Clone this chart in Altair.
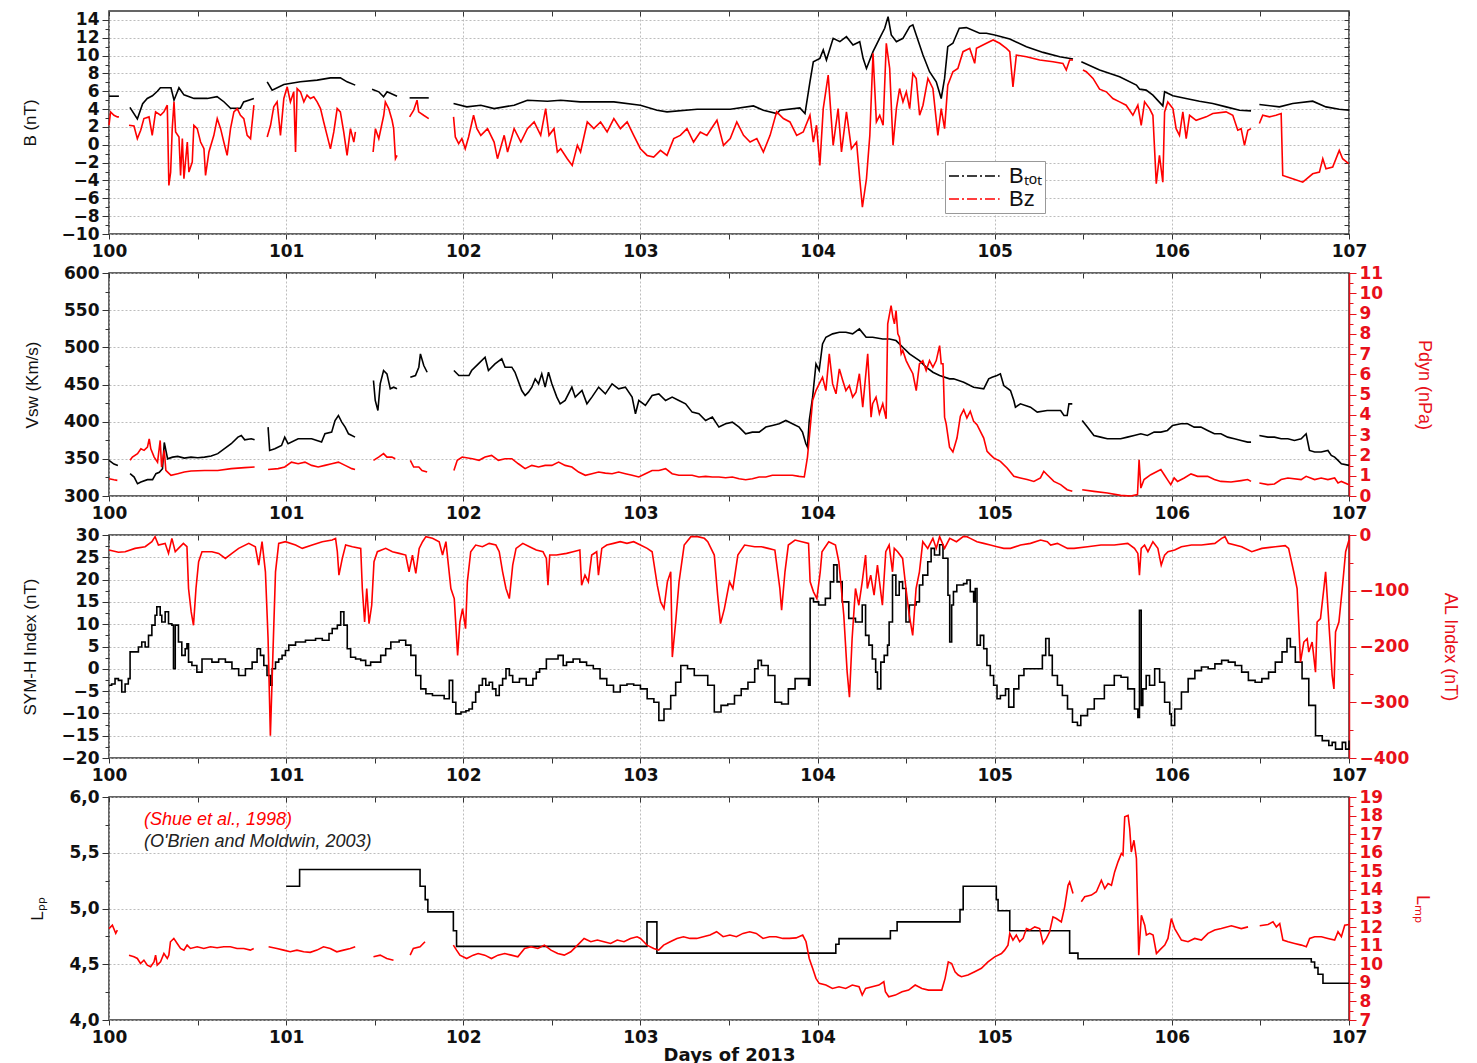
import altair as alt
import pandas as pd

# ---------------- data (day of 2013, value); None = data gap ----------------
BTOT = [
    (100.0, 5.45), (100.056, 5.45), None,
    (100.118, 4.2), (100.16, 2.9), (100.19, 4.6), (100.216, 5.2), (100.245, 5.5), (100.273, 6.0), (100.29, 6.4),
    (100.35, 6.4), (100.367, 5.0), (100.395, 6.4), (100.423, 5.6), (100.48, 5.2), (100.555, 5.2), (100.61, 5.4),
    (100.65, 4.8), (100.686, 4.1), (100.742, 4.1), (100.76, 4.8), (100.818, 5.2), None,
    (100.893, 7.06), (100.921, 6.13), (100.987, 6.76), (101.08, 7.06), (101.175, 7.25), (101.25, 7.5), (101.306, 7.5),
    (101.344, 7.06), (101.39, 6.69), None,
    (101.485, 6.24), (101.523, 5.94), (101.55, 5.38), (101.57, 5.94), (101.626, 5.45), None,
    (101.697, 5.26), (101.805, 5.26), None,
    (101.945, 4.63), (102.02, 4.25), (102.099, 4.44), (102.174, 4.06), (102.287, 4.44), (102.362, 5.0), (102.475, 4.89),
    (102.55, 5.0), (102.66, 4.81), (102.85, 4.81), (103.0, 4.44), (103.094, 3.88), (103.15, 3.69), (103.32, 3.99),
    (103.507, 3.99), (103.638, 4.36), (103.694, 3.88), (103.77, 3.5), (103.788, 3.88), (103.9, 4.14), (103.929, 3.5),
    (103.957, 7.06), (103.976, 9.31), (104.013, 9.69), (104.032, 10.63), (104.05, 9.5), (104.088, 11.94),
    (104.126, 11.56), (104.163, 12.12), (104.2, 11.19), (104.238, 11.56), (104.257, 9.69), (104.276, 8.56),
    (104.313, 10.44), (104.35, 11.94), (104.379, 13.06), (104.398, 14.37), (104.416, 12.31), (104.445, 11.56),
    (104.482, 11.94), (104.52, 13.25), (104.538, 13.44), (104.557, 12.31), (104.595, 10.06), (104.632, 8.19),
    (104.67, 7.06), (104.698, 5.19), (104.717, 7.44), (104.735, 11.0), (104.764, 11.38), (104.8, 13.06),
    (104.84, 13.14), (104.915, 12.5), (104.953, 12.5), (105.0, 12.31), (105.085, 11.86), (105.179, 11.0),
    (105.273, 10.36), (105.367, 9.88), (105.442, 9.61), None,
    (105.489, 9.31), (105.592, 8.38), (105.705, 7.63), (105.8, 6.69), (105.818, 6.24), (105.855, 6.13), (105.893, 5.56),
    (105.949, 4.36), (105.959, 5.94), (106.006, 5.49), (106.08, 5.19), (106.156, 4.89), (106.231, 4.63), (106.306, 4.25),
    (106.382, 3.88), (106.447, 3.8), None,
    (106.494, 4.51), (106.607, 4.25), (106.682, 4.63), (106.795, 4.89), (106.87, 4.25), (106.945, 3.99), (107.0, 3.88),
]

BZ = [
    (100.0, 2.19), (100.009, 3.69), (100.028, 3.31), (100.047, 3.13), (100.056, 3.13), None,
    (100.113, 2.19), (100.141, 2.11), (100.16, 0.69), (100.179, 1.63), (100.197, 2.94), (100.226, 3.13), (100.244, 1.06),
    (100.263, 3.69), (100.291, 3.31), (100.31, 3.69), (100.329, 4.44), (100.338, -4.56), (100.348, -3.06),
    (100.357, 1.81), (100.367, 4.81), (100.376, 1.44), (100.395, 0.88), (100.404, -3.44), (100.414, 0.69),
    (100.423, -3.81), (100.442, 0.31), (100.451, -3.06), (100.47, -1.94), (100.479, 2.19), (100.498, 1.81),
    (100.517, 0.31), (100.536, -0.44), (100.545, -3.44), (100.564, -0.81), (100.592, 1.06), (100.611, 2.94),
    (100.63, 1.81), (100.648, 0.31), (100.667, -1.19), (100.686, 1.81), (100.705, 3.69), (100.724, 4.06),
    (100.742, 3.31), (100.761, 2.94), (100.78, 1.06), (100.799, 0.69), (100.818, 4.44), None,
    (100.893, 0.88), (100.912, 2.19), (100.93, 4.25), (100.949, 4.81), (100.968, 1.06), (100.987, 5.19),
    (101.006, 6.5), (101.024, 4.81), (101.043, 5.94), (101.053, -0.81), (101.062, 6.31), (101.081, 5.94),
    (101.1, 4.81), (101.118, 5.56), (101.137, 5.19), (101.156, 5.38), (101.175, 4.81), (101.194, 4.06),
    (101.212, 2.56), (101.231, 1.06), (101.25, -0.44), (101.269, 1.44), (101.288, 4.06), (101.306, 3.69),
    (101.325, 1.44), (101.344, -1.19), (101.363, 1.81), (101.382, 0.31), (101.391, 1.44), None,
    (101.491, -0.81), (101.504, 1.81), (101.523, 0.69), (101.551, 3.31), (101.56, 4.81), (101.579, 4.06),
    (101.598, 2.75), (101.607, 1.81), (101.617, -1.56), (101.626, -1.19), None,
    (101.697, 3.13), (101.72, 3.88), (101.739, 5.0), (101.748, 3.69), (101.776, 3.31), (101.805, 2.94), None,
    (101.945, 3.13), (101.955, 0.88), (101.974, 0.13), (101.992, 0.69), (102.011, -0.44), (102.03, 0.88),
    (102.058, 3.31), (102.077, 1.81), (102.099, 1.06), (102.137, 1.81), (102.174, 0.31), (102.193, -1.56),
    (102.231, 1.06), (102.25, -0.81), (102.287, 1.81), (102.325, 0.31), (102.362, 1.81), (102.4, 2.56),
    (102.437, 1.06), (102.465, 4.06), (102.484, 1.06), (102.512, 1.81), (102.531, -0.81), (102.55, -0.44),
    (102.587, -1.56), (102.615, -2.31), (102.644, -0.06), (102.662, -0.81), (102.7, 2.56), (102.737, 1.81),
    (102.775, 2.56), (102.812, 1.44), (102.85, 2.94), (102.887, 1.81), (102.925, 2.56), (102.962, 1.06),
    (103.0, -0.44), (103.038, -1.19), (103.075, -1.37), (103.113, -0.63), (103.15, -1.19), (103.188, 0.69),
    (103.225, 1.06), (103.263, 1.81), (103.3, 0.31), (103.338, 1.44), (103.375, 1.06), (103.413, 2.19),
    (103.432, 2.75), (103.469, -0.06), (103.507, 0.69), (103.544, 2.56), (103.582, 1.06), (103.619, 0.31),
    (103.657, 0.69), (103.694, -0.81), (103.732, 1.06), (103.769, 3.69), (103.807, 2.94), (103.844, 2.56),
    (103.882, 1.06), (103.919, 1.44), (103.957, 3.31), (103.976, 0.31), (103.994, 2.19), (104.013, -2.31),
    (104.032, 4.06), (104.06, 7.81), (104.088, -0.06), (104.116, 4.06), (104.135, -0.81), (104.163, 3.69),
    (104.191, -0.44), (104.22, 0.31), (104.238, -3.81), (104.253, -7.0), (104.276, -3.81), (104.295, 1.06),
    (104.313, 10.25), (104.332, 2.56), (104.351, 3.31), (104.37, 2.19), (104.388, 11.38), (104.407, 8.56),
    (104.426, -0.06), (104.445, 4.06), (104.463, 6.31), (104.482, 4.81), (104.501, 5.94), (104.52, 4.06),
    (104.538, 8.0), (104.557, 7.44), (104.576, 3.31), (104.595, 4.44), (104.623, 7.44), (104.651, 6.31),
    (104.679, 1.06), (104.698, 4.06), (104.717, 1.81), (104.735, 6.69), (104.764, 8.19), (104.792, 8.56),
    (104.821, 10.44), (104.859, 10.81), (104.887, 9.13), (104.897, 10.81), (104.953, 11.38), (104.991, 11.75),
    (105.028, 11.38), (105.066, 10.81), (105.085, 10.44), (105.103, 6.5), (105.122, 10.06), (105.179, 9.88),
    (105.254, 9.5), (105.329, 9.31), (105.385, 9.13), (105.404, 8.38), (105.423, 9.5), (105.442, 9.5), None,
    (105.498, 8.38), (105.517, 8.19), (105.555, 7.44), (105.592, 6.24), (105.63, 5.94), (105.667, 5.19),
    (105.705, 4.81), (105.742, 4.44), (105.78, 3.31), (105.808, 4.44), (105.827, 2.19), (105.846, 4.81),
    (105.874, 4.06), (105.893, 3.31), (105.912, -4.37), (105.93, -1.19), (105.949, -4.19), (105.959, 3.69),
    (105.977, 4.81), (106.006, 4.06), (106.024, 1.81), (106.043, 1.06), (106.062, 3.69), (106.081, 0.69),
    (106.1, 3.31), (106.137, 2.75), (106.194, 3.13), (106.231, 3.5), (106.306, 3.69), (106.344, 3.31),
    (106.372, 1.63), (106.391, 1.81), (106.41, -0.06), (106.429, 1.63), (106.447, 1.81), None,
    (106.494, 2.38), (106.513, 3.31), (106.551, 3.13), (106.588, 3.31), (106.617, 3.5), (106.626, -3.44),
    (106.682, -3.81), (106.739, -4.19), (106.795, -3.25), (106.833, -3.06), (106.852, -1.56), (106.87, -2.69),
    (106.908, -2.5), (106.945, -0.63), (106.964, -1.56), (106.998, -2.12),
]

VSW = [
    (100.0, 348), (100.028, 343), (100.05, 341), None,
    (100.119, 330), (100.142, 325.5), (100.161, 316.5), (100.18, 318.8), (100.217, 322), (100.246, 322), (100.265, 330),
    (100.284, 332), (100.302, 336.7), (100.312, 372), (100.331, 350), (100.359, 352.3), (100.388, 353.3),
    (100.425, 351), (100.463, 352.3), (100.501, 351.4), (100.539, 352.3), (100.577, 353.7), (100.614, 357),
    (100.652, 363.6), (100.69, 370.3), (100.728, 379.2), (100.747, 381.5), (100.766, 375.6), (100.803, 377),
    (100.822, 375.6), None,
    (100.898, 392.7), (100.907, 361.3), (100.936, 363.6), (100.974, 368), (100.992, 379.2), (101.011, 370.3),
    (101.068, 377), (101.144, 377), (101.2, 372.5), (101.219, 383.7), (101.257, 385.9), (101.276, 401.6),
    (101.295, 408.3), (101.314, 399.4), (101.333, 392.7), (101.352, 383.7), (101.389, 379.2), None,
    (101.493, 455.4), (101.503, 428.5), (101.518, 415), (101.531, 450.9), (101.55, 468.8), (101.569, 464.3),
    (101.588, 444.2), (101.607, 446.4), (101.626, 444.2), None,
    (101.701, 459.8), (101.73, 462.1), (101.749, 473.3), (101.758, 491.2), (101.777, 475.5), (101.796, 466.5), None,
    (101.947, 468.8), (101.975, 462.1), (102.032, 462.1), (102.047, 468.8), (102.085, 477.7), (102.123, 486.7),
    (102.142, 468.8), (102.179, 477.7), (102.217, 484.5), (102.236, 473.3), (102.274, 473.3), (102.292, 466.5),
    (102.33, 441.9), (102.349, 435.2), (102.368, 439.7), (102.387, 446.4), (102.406, 457.6), (102.425, 450.9),
    (102.443, 464.3), (102.462, 446.4), (102.481, 466.5), (102.5, 450.9), (102.528, 433), (102.547, 424),
    (102.575, 428.5), (102.613, 446.4), (102.632, 433), (102.67, 441.9), (102.698, 424), (102.726, 433),
    (102.764, 446.4), (102.802, 437.4), (102.84, 450.9), (102.877, 444.2), (102.915, 446.4), (102.953, 433),
    (102.972, 410.6), (102.991, 428.5), (103.028, 421.8), (103.066, 435.2), (103.104, 437.4), (103.142, 428.5),
    (103.179, 433), (103.217, 428.5), (103.255, 424), (103.292, 412.8), (103.33, 410.6), (103.368, 401.6),
    (103.406, 406.1), (103.443, 392.7), (103.481, 397.1), (103.519, 399.4), (103.557, 392.7), (103.594, 383.7),
    (103.632, 385.9), (103.67, 385.9), (103.708, 392.7), (103.745, 394.9), (103.783, 397.1), (103.821, 401.6),
    (103.858, 397.1), (103.896, 392.7), (103.915, 385.9), (103.934, 370.3), (103.943, 365.8), (103.953, 401.6),
    (103.972, 433), (103.991, 477.7), (104.009, 468.8), (104.028, 504.6), (104.047, 513.6), (104.085, 518.1),
    (104.123, 520.3), (104.16, 520.3), (104.198, 518.1), (104.236, 524.8), (104.274, 513.6), (104.311, 513.6),
    (104.368, 511.3), (104.406, 511.3), (104.443, 509.1), (104.481, 500.1), (104.519, 491.2), (104.575, 482.2),
    (104.613, 473.3), (104.651, 466.5), (104.689, 462.1), (104.745, 457.6), (104.768, 457.6), (104.825, 453.1),
    (104.881, 446.4), (104.938, 444.2), (104.966, 457.6), (104.985, 459.8), (105.013, 462.1), (105.032, 464.3),
    (105.051, 448.6), (105.089, 441.9), (105.108, 428.5), (105.117, 419.5), (105.145, 424), (105.202, 419.5),
    (105.24, 412.8), (105.296, 415), (105.372, 415), (105.391, 408.3), (105.409, 408.3), (105.419, 424),
    (105.438, 424), None,
    (105.494, 401.6), (105.523, 392.7), (105.56, 381.5), (105.598, 379.2), (105.636, 377), (105.674, 377),
    (105.711, 377), (105.749, 379.2), (105.787, 381.5), (105.825, 383.7), (105.862, 381.5), (105.9, 385.9),
    (105.938, 385.9), (105.975, 388.2), (106.004, 394.9), (106.051, 397.1), (106.089, 397.1), (106.126, 392.7),
    (106.164, 392.7), (106.202, 388.2), (106.24, 383.7), (106.277, 383.7), (106.315, 379.2), (106.353, 377),
    (106.391, 374.7), (106.428, 372.5), (106.447, 372.5), None,
    (106.494, 381.5), (106.542, 379.2), (106.579, 379.2), (106.617, 377), (106.655, 377), (106.692, 374.7),
    (106.73, 377), (106.758, 383.7), (106.777, 361.3), (106.806, 359.1), (106.843, 359.1), (106.881, 361.3),
    (106.9, 354.6), (106.919, 352.3), (106.938, 347.9), (106.957, 343.4), (107.0, 341.2),
]

PDYN = [
    (100.0, 0.85), (100.028, 0.8), (100.047, 0.77), None,
    (100.119, 1.76), (100.132, 1.92), (100.161, 2.09), (100.18, 2.33), (100.198, 2.25), (100.217, 2.41),
    (100.227, 2.82), (100.236, 2.33), (100.255, 1.92), (100.274, 1.67), (100.289, 2.74), (100.297, 1.43),
    (100.312, 2.25), (100.321, 1.26), (100.331, 1.18), (100.35, 1.02), (100.388, 1.1), (100.425, 1.18),
    (100.463, 1.23), (100.539, 1.26), (100.614, 1.26), (100.69, 1.35), (100.766, 1.4), (100.822, 1.43), None,
    (100.898, 1.31), (100.955, 1.35), (100.992, 1.43), (101.03, 1.67), (101.068, 1.59), (101.106, 1.67),
    (101.144, 1.51), (101.181, 1.43), (101.219, 1.51), (101.257, 1.59), (101.295, 1.67), (101.333, 1.51),
    (101.371, 1.35), (101.389, 1.31), None,
    (101.493, 1.76), (101.522, 1.92), (101.55, 2.09), (101.569, 1.92), (101.597, 1.92), (101.616, 1.84), None,
    (101.701, 1.76), (101.72, 1.43), (101.749, 1.43), (101.767, 1.26), (101.796, 1.18), None,
    (101.947, 1.26), (101.966, 1.76), (101.994, 1.92), (102.051, 1.84), (102.089, 1.76), (102.123, 1.92),
    (102.16, 2.0), (102.198, 1.76), (102.236, 1.84), (102.274, 1.84), (102.311, 1.59), (102.349, 1.35),
    (102.387, 1.51), (102.425, 1.43), (102.462, 1.51), (102.5, 1.51), (102.538, 1.67), (102.575, 1.51),
    (102.613, 1.43), (102.651, 1.18), (102.689, 1.02), (102.726, 1.1), (102.764, 1.18), (102.802, 1.13),
    (102.84, 1.1), (102.877, 1.18), (102.915, 1.1), (102.953, 1.02), (102.991, 0.94), (103.028, 1.1),
    (103.066, 1.26), (103.104, 1.26), (103.142, 1.35), (103.179, 1.1), (103.217, 1.02), (103.255, 1.02),
    (103.292, 1.02), (103.33, 0.94), (103.368, 0.97), (103.406, 0.94), (103.443, 0.94), (103.481, 0.9),
    (103.519, 0.94), (103.557, 0.85), (103.594, 0.8), (103.632, 0.85), (103.67, 0.94), (103.708, 0.94),
    (103.745, 1.02), (103.783, 1.02), (103.821, 1.02), (103.858, 1.02), (103.896, 0.97), (103.925, 0.94),
    (103.943, 1.92), (103.957, 3.23), (103.972, 4.71), (103.991, 5.2), (104.009, 5.53), (104.028, 5.86),
    (104.047, 5.2), (104.066, 7.01), (104.085, 5.53), (104.104, 5.04), (104.123, 6.27), (104.142, 5.7),
    (104.16, 5.2), (104.179, 5.45), (104.198, 4.88), (104.217, 5.12), (104.236, 6.03), (104.255, 4.38),
    (104.283, 7.01), (104.302, 3.89), (104.311, 4.55), (104.33, 4.88), (104.349, 4.06), (104.368, 4.55),
    (104.387, 3.81), (104.396, 8.49), (104.415, 9.39), (104.425, 8.82), (104.434, 8.49), (104.443, 9.15),
    (104.453, 8.0), (104.462, 7.83), (104.472, 7.01), (104.481, 7.18), (104.5, 6.68), (104.519, 6.35),
    (104.538, 6.03), (104.557, 5.2), (104.575, 6.52), (104.594, 6.68), (104.613, 6.19), (104.632, 6.68),
    (104.651, 6.35), (104.67, 6.68), (104.689, 7.42), (104.698, 6.52), (104.708, 6.52), (104.717, 3.89),
    (104.726, 3.56), (104.745, 2.41), (104.764, 2.17), (104.787, 2.86), (104.806, 3.93), (104.825, 4.26),
    (104.843, 3.85), (104.862, 4.18), (104.881, 3.68), (104.9, 3.52), (104.919, 3.19), (104.938, 2.86),
    (104.957, 2.2), (104.975, 2.04), (104.994, 1.88), (105.032, 1.71), (105.07, 1.38), (105.108, 0.97),
    (105.145, 0.89), (105.183, 0.81), (105.221, 0.72), (105.258, 0.89), (105.277, 1.22), (105.296, 1.05),
    (105.334, 0.72), (105.372, 0.56), (105.409, 0.31), (105.438, 0.23), None,
    (105.494, 0.31), (105.56, 0.23), (105.636, 0.15), (105.711, 0.03), (105.768, 0.0), (105.806, 0.07),
    (105.815, 1.79), (105.825, 0.39), (105.843, 0.81), (105.881, 1.05), (105.919, 1.22), (105.938, 1.3),
    (105.957, 1.05), (105.975, 0.81), (105.994, 0.56), (106.013, 0.89), (106.032, 0.72), (106.07, 0.89),
    (106.108, 1.09), (106.145, 0.97), (106.202, 0.97), (106.24, 0.81), (106.277, 0.72), (106.334, 0.69),
    (106.391, 0.76), (106.428, 0.81), (106.447, 0.72), None,
    (106.494, 0.64), (106.542, 0.56), (106.579, 0.59), (106.617, 0.81), (106.655, 0.89), (106.73, 0.81),
    (106.758, 0.97), (106.806, 0.81), (106.843, 0.89), (106.881, 0.81), (106.919, 0.89), (106.938, 0.64),
    (106.957, 0.72), (107.0, 0.56),
]

SYMH = [
    (100.0, -3.7), (100.015, -3.4), (100.034, -2.2), (100.053, -2.6), (100.072, -5.2), (100.091, -3.4),
    (100.109, -2.2), (100.119, 3.8), (100.147, 3.8), (100.166, 4.9), (100.185, 6.0), (100.204, 4.9),
    (100.223, 7.5), (100.242, 9.8), (100.26, 12.0), (100.27, 13.9), (100.289, 12.0), (100.298, 10.5),
    (100.317, 12.8), (100.336, 10.1), (100.355, 9.8), (100.364, 0.0), (100.374, 9.8), (100.392, 6.0),
    (100.411, 3.0), (100.43, 4.5), (100.44, 5.6), (100.449, 1.5), (100.468, 0.75), (100.496, -0.75),
    (100.525, 2.2), (100.553, 2.2), (100.581, 1.5), (100.619, 2.2), (100.657, 1.5), (100.694, 0.0),
    (100.732, -1.5), (100.77, 0.0), (100.808, 1.5), (100.836, 4.5), (100.855, 3.0), (100.874, 0.75),
    (100.892, -1.5), (100.911, -3.7), (100.921, 0.0), (100.94, 1.5), (100.958, 2.2), (100.977, 3.0),
    (100.996, 4.1), (101.015, 5.3), (101.053, 6.0), (101.109, 6.4), (101.166, 6.8), (101.204, 6.4),
    (101.242, 7.9), (101.26, 9.0), (101.289, 9.8), (101.308, 12.8), (101.326, 9.8), (101.345, 4.5),
    (101.364, 2.6), (101.392, 2.2), (101.421, 1.9), (101.449, 0.75), (101.477, 1.5), (101.506, 1.5),
    (101.534, 3.0), (101.562, 4.5), (101.591, 6.0), (101.638, 6.4), (101.675, 5.3), (101.704, 3.0),
    (101.732, -1.5), (101.76, -4.5), (101.789, -5.6), (101.826, -6.0), (101.864, -6.0), (101.892, -6.7),
    (101.921, -2.6), (101.94, -7.5), (101.958, -10.1), (101.987, -9.7), (102.015, -9.4), (102.032, -9.0),
    (102.051, -7.5), (102.07, -5.2), (102.089, -3.7), (102.108, -2.2), (102.127, -3.7), (102.146, -3.0),
    (102.165, -4.5), (102.184, -6.0), (102.203, -3.7), (102.222, -2.2), (102.241, 0.0), (102.26, -1.5),
    (102.279, -3.0), (102.317, -2.2), (102.355, -3.7), (102.393, -2.2), (102.412, -0.75), (102.431, 0.0),
    (102.469, 2.2), (102.507, 2.2), (102.535, 3.0), (102.564, 0.75), (102.583, 1.5), (102.62, 2.2),
    (102.658, 1.5), (102.696, 0.75), (102.734, 0.0), (102.772, -2.2), (102.81, -3.7), (102.848, -5.2),
    (102.886, -3.7), (102.924, -3.4), (102.962, -3.7), (103.0, -4.5), (103.038, -6.7), (103.076, -7.5),
    (103.104, -11.6), (103.133, -9.0), (103.171, -6.0), (103.199, -3.0), (103.228, 0.75), (103.266, 0.0),
    (103.304, -1.5), (103.342, -1.5), (103.38, -3.7), (103.417, -9.7), (103.455, -8.2), (103.493, -7.9),
    (103.531, -6.0), (103.569, -4.5), (103.607, -3.0), (103.645, 0.0), (103.664, 1.9), (103.683, 0.75),
    (103.721, -1.5), (103.759, -7.5), (103.797, -7.9), (103.835, -4.5), (103.873, -2.2), (103.911, -2.2),
    (103.949, -3.7), (103.958, 15.8), (103.977, 15.0), (104.006, 14.3), (104.044, 15.8), (104.072, 19.5),
    (104.091, 23.3), (104.11, 19.5), (104.139, 15.0), (104.176, 11.3), (104.214, 10.5), (104.252, 14.3),
    (104.271, 7.5), (104.29, 5.3), (104.309, 2.2), (104.328, -0.75), (104.338, -4.5), (104.357, 1.5),
    (104.376, 3.0), (104.395, 5.3), (104.404, 10.5), (104.423, 21.0), (104.442, 16.5), (104.461, 19.5),
    (104.48, 18.0), (104.499, 10.5), (104.518, 14.3), (104.556, 15.0), (104.575, 18.8), (104.594, 21.0),
    (104.622, 24.0), (104.641, 27.0), (104.66, 25.5), (104.689, 27.8), (104.708, 24.8), (104.736, 16.5),
    (104.746, 6.0), (104.757, 14.3), (104.767, 17.3), (104.786, 18.8), (104.824, 19.1), (104.843, 19.9),
    (104.862, 17.3), (104.881, 15.0), (104.89, 18.0), (104.9, 5.3), (104.919, 7.5), (104.938, 4.5),
    (104.956, 0.75), (104.975, -1.5), (104.994, -3.7), (105.013, -6.7), (105.032, -6.0), (105.061, -4.5),
    (105.079, -8.6), (105.108, -4.5), (105.136, -1.5), (105.165, 0.0), (105.202, 0.0), (105.24, 0.0),
    (105.269, 3.0), (105.288, 6.8), (105.307, 3.0), (105.325, -1.5), (105.354, -3.7), (105.382, -6.0),
    (105.411, -9.0), (105.439, -12.0), (105.467, -12.7), (105.486, -10.5), (105.524, -9.0), (105.562, -6.7),
    (105.619, -3.7), (105.675, -1.5), (105.713, -1.9), (105.751, -4.5), (105.789, -9.0), (105.808, -10.9),
    (105.817, 13.1), (105.827, -8.2), (105.836, -4.5), (105.855, -1.5), (105.874, -3.7), (105.903, 0.0),
    (105.931, -3.0), (105.959, -7.5), (105.988, -10.1), (105.997, -12.7), (106.016, -9.0), (106.054, -5.2),
    (106.092, -2.2), (106.13, -0.4), (106.167, 0.4), (106.205, 0.0), (106.243, 1.1), (106.281, 1.9),
    (106.319, 1.5), (106.357, 0.75), (106.394, -0.75), (106.432, -2.6), (106.47, -3.0), (106.508, -2.2),
    (106.546, -0.75), (106.584, 1.5), (106.622, 3.8), (106.65, 6.8), (106.669, 4.9), (106.697, 1.5),
    (106.735, -2.2), (106.773, -8.2), (106.811, -15.0), (106.849, -16.1), (106.886, -17.2), (106.905, -16.5),
    (106.924, -18.0), (106.962, -16.5), (106.981, -18.0), (107.0, -16.1),
]

AL = [
    (100.0, -27), (100.053, -31), (100.091, -30), (100.147, -24), (100.204, -21), (100.242, -12), (100.26, -3),
    (100.279, -18), (100.317, -15), (100.336, -33), (100.355, -6), (100.374, -30), (100.392, -24), (100.42, -15),
    (100.44, -21), (100.449, -96), (100.464, -138), (100.477, -162), (100.491, -96), (100.506, -48),
    (100.525, -30), (100.581, -30), (100.619, -33), (100.657, -42), (100.694, -33), (100.732, -24),
    (100.789, -15), (100.826, -21), (100.845, -54), (100.864, -12), (100.883, -66), (100.898, -186),
    (100.911, -360), (100.925, -216), (100.94, -66), (100.958, -15), (100.996, -12), (101.053, -18),
    (101.091, -24), (101.147, -18), (101.204, -12), (101.26, -9), (101.279, -6), (101.289, -30), (101.298, -72),
    (101.317, -42), (101.336, -18), (101.374, -21), (101.421, -24), (101.43, -96), (101.443, -156),
    (101.455, -96), (101.468, -159), (101.483, -126), (101.496, -48), (101.515, -30), (101.562, -24),
    (101.6, -30), (101.638, -33), (101.675, -36), (101.694, -66), (101.713, -36), (101.732, -69),
    (101.751, -24), (101.77, -12), (101.789, -3), (101.826, -6), (101.864, -12), (101.883, -36), (101.902, -12),
    (101.93, -96), (101.949, -114), (101.968, -216), (101.981, -156), (101.996, -132), (102.013, -168),
    (102.023, -84), (102.042, -30), (102.07, -18), (102.108, -21), (102.146, -15), (102.184, -18),
    (102.203, -30), (102.222, -66), (102.241, -96), (102.26, -114), (102.279, -54), (102.298, -24),
    (102.336, -15), (102.374, -21), (102.412, -27), (102.45, -30), (102.469, -42), (102.478, -90),
    (102.488, -36), (102.526, -36), (102.583, -33), (102.62, -30), (102.658, -27), (102.668, -90),
    (102.687, -72), (102.706, -84), (102.725, -36), (102.753, -30), (102.763, -72), (102.782, -24),
    (102.81, -18), (102.848, -15), (102.886, -12), (102.924, -15), (102.962, -12), (103.0, -18), (103.038, -24),
    (103.066, -30), (103.095, -90), (103.114, -120), (103.133, -132), (103.152, -84), (103.171, -66),
    (103.18, -219), (103.199, -156), (103.218, -84), (103.247, -18), (103.285, -3), (103.323, -3),
    (103.361, -6), (103.38, -12), (103.417, -36), (103.436, -108), (103.452, -159), (103.474, -132),
    (103.503, -84), (103.522, -96), (103.55, -36), (103.588, -18), (103.645, -21), (103.683, -21),
    (103.721, -24), (103.759, -27), (103.787, -96), (103.797, -135), (103.816, -66), (103.835, -18),
    (103.873, -9), (103.911, -12), (103.949, -15), (103.958, -84), (103.977, -102), (103.996, -114),
    (104.015, -66), (104.025, -30), (104.063, -12), (104.101, -18), (104.12, -48), (104.148, -144),
    (104.167, -246), (104.18, -291), (104.195, -186), (104.214, -96), (104.233, -126), (104.252, -84),
    (104.271, -36), (104.281, -96), (104.3, -72), (104.319, -108), (104.338, -54), (104.366, -126),
    (104.385, -30), (104.404, -18), (104.423, -66), (104.433, -24), (104.452, -30), (104.48, -42),
    (104.499, -96), (104.518, -144), (104.537, -180), (104.556, -96), (104.575, -66), (104.594, -12),
    (104.622, -24), (104.651, -6), (104.67, -24), (104.689, -3), (104.717, -24), (104.746, -6),
    (104.784, -12), (104.822, -3), (104.843, -3), (104.862, -6), (104.9, -12), (104.938, -15), (104.975, -18),
    (105.013, -21), (105.051, -24), (105.089, -24), (105.146, -18), (105.202, -15), (105.259, -9),
    (105.297, -12), (105.316, -18), (105.354, -15), (105.411, -24), (105.448, -24), (105.524, -21),
    (105.6, -18), (105.675, -18), (105.751, -15), (105.789, -24), (105.808, -33), (105.817, -72),
    (105.827, -24), (105.846, -18), (105.865, -30), (105.893, -12), (105.921, -24), (105.94, -54),
    (105.959, -36), (105.978, -30), (106.016, -27), (106.054, -21), (106.111, -18), (106.167, -18),
    (106.243, -15), (106.281, -6), (106.3, -3), (106.319, -15), (106.394, -21), (106.451, -30),
    (106.508, -24), (106.584, -21), (106.64, -19), (106.659, -24), (106.688, -66), (106.707, -96),
    (106.716, -156), (106.726, -228), (106.745, -192), (106.764, -186), (106.773, -210), (106.792, -192),
    (106.811, -246), (106.82, -156), (106.839, -150), (106.858, -96), (106.868, -66), (106.886, -156),
    (106.905, -252), (106.915, -276), (106.924, -174), (106.943, -156), (106.962, -96), (106.981, -30),
    (107.0, -9),
]

LPP = [
    (101.0, 5.2), (101.076, 5.35), (101.756, 5.2), (101.785, 5.08), (101.8, 4.97), (101.944, 4.8),
    (101.962, 4.66), (103.037, 4.88), (103.093, 4.6), (104.103, 4.68), (104.121, 4.73), (104.411, 4.8),
    (104.449, 4.88), (104.804, 4.99), (104.822, 5.2), (105.009, 5.08), (105.019, 4.98), (105.085, 4.8),
    (105.423, 4.6), (105.47, 4.55), (106.787, 4.52), (106.806, 4.47), (106.825, 4.41), (106.853, 4.33),
    (107.0, 4.33),
]

LMP = [
    (100.0, 11.92), (100.019, 12.1), (100.038, 11.66), (100.047, 11.84), None,
    (100.113, 10.49), (100.141, 10.4), (100.16, 10.31), (100.178, 10.04), (100.197, 10.22), (100.216, 9.95),
    (100.235, 9.87), (100.254, 10.13), (100.263, 10.49), (100.272, 9.95), (100.291, 10.13), (100.31, 10.58),
    (100.329, 10.31), (100.338, 10.49), (100.347, 11.21), (100.366, 11.39), (100.385, 11.12), (100.404, 10.85),
    (100.423, 10.76), (100.441, 11.03), (100.46, 10.85), (100.498, 10.94), (100.535, 10.85), (100.573, 10.94),
    (100.61, 10.89), (100.648, 10.94), (100.685, 10.94), (100.723, 10.85), (100.761, 10.85), (100.798, 10.76),
    (100.817, 10.85), None,
    (100.901, 10.94), (100.948, 10.85), (100.986, 10.76), (101.023, 10.67), (101.061, 10.76), (101.099, 10.67),
    (101.136, 10.64), (101.174, 10.76), (101.211, 10.94), (101.249, 10.85), (101.286, 10.67), (101.324, 10.76),
    (101.362, 10.85), (101.39, 10.94), None,
    (101.493, 10.4), (101.531, 10.49), (101.568, 10.31), (101.606, 10.22), None,
    (101.7, 10.49), (101.718, 10.85), (101.756, 10.94), (101.784, 11.21), None,
    (101.944, 11.03), (101.962, 10.76), (101.981, 10.49), (102.019, 10.31), (102.056, 10.49), (102.084, 10.58),
    (102.121, 10.49), (102.159, 10.31), (102.196, 10.49), (102.234, 10.58), (102.271, 10.49), (102.308, 10.4),
    (102.346, 10.85), (102.383, 10.94), (102.421, 10.85), (102.458, 11.03), (102.495, 10.76), (102.533, 10.58),
    (102.57, 10.49), (102.607, 10.67), (102.645, 11.03), (102.682, 11.39), (102.72, 11.21), (102.757, 11.3),
    (102.794, 11.21), (102.832, 11.12), (102.869, 11.3), (102.907, 11.21), (102.944, 11.39), (102.981, 11.48),
    (103.0, 11.39), (103.019, 11.21), (103.037, 11.03), (103.075, 10.85), (103.103, 10.76), (103.131, 11.03),
    (103.168, 11.21), (103.206, 11.39), (103.243, 11.48), (103.28, 11.39), (103.318, 11.39), (103.355, 11.48),
    (103.393, 11.57), (103.43, 11.75), (103.467, 11.48), (103.505, 11.57), (103.542, 11.48), (103.579, 11.66),
    (103.617, 11.75), (103.654, 11.66), (103.692, 11.39), (103.729, 11.48), (103.766, 11.48), (103.804, 11.39),
    (103.841, 11.39), (103.879, 11.42), (103.916, 11.57), (103.935, 11.21), (103.953, 10.31), (103.972, 9.78),
    (103.991, 9.24), (104.009, 8.97), (104.047, 8.88), (104.084, 8.7), (104.121, 8.79), (104.159, 8.7),
    (104.196, 8.88), (104.234, 8.79), (104.252, 8.34), (104.271, 8.7), (104.308, 8.79), (104.346, 8.88),
    (104.374, 9.06), (104.383, 8.52), (104.402, 8.25), (104.439, 8.34), (104.477, 8.52), (104.514, 8.61),
    (104.551, 8.88), (104.589, 8.7), (104.626, 8.61), (104.664, 8.61), (104.701, 8.61), (104.72, 9.24),
    (104.738, 10.13), (104.757, 10.04), (104.776, 9.6), (104.794, 9.42), (104.812, 9.33), (104.849, 9.42),
    (104.887, 9.6), (104.925, 9.78), (104.962, 10.13), (105.0, 10.4), (105.038, 10.58), (105.056, 10.76),
    (105.075, 11.03), (105.085, 11.66), (105.103, 11.3), (105.122, 11.57), (105.141, 11.21), (105.16, 11.39),
    (105.179, 11.92), (105.198, 11.84), (105.226, 12.01), (105.254, 11.92), (105.273, 11.12), (105.292, 11.39),
    (105.31, 11.75), (105.329, 12.55), (105.348, 12.46), (105.376, 12.28), (105.395, 13.09), (105.414, 14.25),
    (105.423, 14.43), (105.442, 13.81), None,
    (105.489, 13.36), (105.508, 13.63), (105.546, 13.72), (105.574, 13.9), (105.602, 14.52), (105.621, 14.07),
    (105.64, 14.34), (105.659, 14.25), (105.677, 14.97), (105.696, 15.51), (105.715, 15.96), (105.724, 15.87),
    (105.734, 17.93), (105.753, 18.01), (105.762, 17.3), (105.771, 16.04), (105.786, 16.67), (105.8, 15.69),
    (105.813, 10.49), (105.828, 12.64), (105.847, 12.1), (105.856, 11.57), (105.875, 11.66), (105.894, 11.57),
    (105.913, 10.58), (105.931, 10.76), (105.96, 11.03), (105.978, 11.39), (105.997, 12.46), (106.016, 11.92),
    (106.054, 11.3), (106.091, 11.21), (106.129, 11.39), (106.167, 11.3), (106.204, 11.66), (106.242, 11.84),
    (106.279, 11.92), (106.336, 12.07), (106.392, 11.92), (106.43, 12.01), None,
    (106.496, 12.07), (106.543, 12.14), (106.571, 12.28), (106.59, 12.01), (106.609, 12.19), (106.627, 11.3),
    (106.656, 11.21), (106.693, 11.12), (106.731, 11.03), (106.759, 10.94), (106.778, 11.39), (106.806, 11.48),
    (106.844, 11.48), (106.881, 11.39), (106.919, 11.3), (106.938, 11.75), (106.957, 11.48), (106.976, 12.1),
    (107.0, 12.14),
]

SERIES_B = ["B\u209c\u2092\u209c", "Bz"]
ANNOT = ["(Shue et al., 1998)", "(O'Brien and Moldwin, 2003)"]
X_TICKS = [100 + 0.5 * i for i in range(15)]

# ---------------- helpers ----------------
RED = "#ff0000"
AXRED = "#e8101a"
GRID = "#b5b5b5"
LABEL_FONT = "DejaVu Sans"
TITLE_FONT = "Liberation Sans Narrow, Liberation Sans, Arial, sans-serif"
W, H = 1240, 223


def to_df(pairs, name):
    rows, seg = [], 0
    for p in pairs:
        if p is None:
            seg += 1
            continue
        rows.append({"day": p[0], "val": p[1], "seg": f"{name}-{seg}", "series": name})
    return pd.DataFrame(rows)


def cond(test, a, b):
    return {"condition": {"test": test, "value": a}, "value": b}


XS = alt.Scale(domain=[100, 107], nice=False, zero=False)


def x_bottom(title=None):
    return alt.Axis(
        title=title, values=X_TICKS,
        labelExpr="datum.value % 1 == 0 ? format(datum.value, 'd') : ''",
        labelOverlap=False, labelFlush=False,
        grid=True, gridDash=[2, 2], gridColor=GRID, gridWidth=0.9,
        gridOpacity=cond("datum.value % 1 == 0", 1, 0),
        tickSize=5, tickColor="#333", domain=False, labelPadding=4,
        titleFont="DejaVu Sans", titleFontWeight="bold", titleFontSize=18, titlePadding=1,
    )


X_TOP = alt.Axis(orient="top", values=X_TICKS, labels=False, title=None, grid=False,
                 domain=False, tickSize=5, offset=-5, tickColor="#333")


def y_left(title, values, major_test, label_expr=None):
    return alt.Axis(
        title=title, values=values, labelOverlap=False, labelFlush=False,
        labelExpr=label_expr or f"{major_test} ? format(datum.value, 'd') : ''",
        tickSize=cond(major_test, 7, 4), tickColor="#333", domain=False,
        grid=True, gridDash=[2, 2], gridColor=GRID, gridWidth=0.9,
        gridOpacity=cond(major_test, 1, 0), titlePadding=22, labelPadding=3,
    )


def y_right(title, values, major_test, title_pad):
    return alt.Axis(
        orient="right", title=title, values=values, labelOverlap=False, labelFlush=False,
        labelExpr=f"{major_test} ? format(datum.value, 'd') : ''",
        tickSize=cond(major_test, 7, 4), tickColor=AXRED, labelColor=AXRED, titleColor=AXRED,
        domain=True, domainColor=AXRED, domainWidth=1.5, grid=False, titlePadding=title_pad,
        labelPadding=3, titleFontSize=18,
    )


def line(df, color, y_scale, y_axis, x_axis, interp="linear"):
    return alt.Chart(df).mark_line(color=color, strokeWidth=1.6, interpolate=interp).encode(
        x=alt.X("day:Q", scale=XS, axis=x_axis),
        y=alt.Y("val:Q", scale=y_scale, axis=y_axis),
        detail="seg:N",
    )


# ---------------- panel 1: B ----------------
b_df_t = to_df(BTOT, SERIES_B[0])
b_df_z = to_df(BZ, SERIES_B[1])
yb = alt.Scale(domain=[-10, 15], nice=False, zero=False)
color_b = alt.Color(
    "series:N",
    scale=alt.Scale(domain=SERIES_B, range=["#000000", RED]),
    legend=alt.Legend(
        orient="none", legendX=836, legendY=150, title=None, symbolType="M-1,0H3.6",
        symbolDash=[10, 3, 2, 3], symbolStrokeWidth=1.5, symbolSize=484,
        labelFont="Liberation Sans", labelFontSize=22, labelFontWeight="normal", labelColor="#111",
        strokeColor="#999", fillColor="white", padding=3, rowPadding=0, labelOffset=37,
    ),
)
p1_t = alt.Chart(b_df_t).mark_line(strokeWidth=1.6).encode(
    x=alt.X("day:Q", scale=XS, axis=x_bottom()),
    y=alt.Y("val:Q", scale=yb, axis=y_left("B (nT)", list(range(-10, 15)), "datum.value % 2 == 0")),
    color=color_b, detail="seg:N",
)
p1_z = alt.Chart(b_df_z).mark_line(strokeWidth=1.6).encode(
    x=alt.X("day:Q", scale=XS, axis=X_TOP),
    y=alt.Y("val:Q", scale=yb, axis=alt.Axis(orient="right", values=list(range(-10, 15)), labels=False,
                                             title=None, grid=False, domain=False, tickSize=5, offset=-5,
                                             tickColor="#333")),
    color=color_b, detail="seg:N",
)
p1 = alt.layer(p1_t, p1_z).resolve_axis(x="independent", y="independent").properties(width=W, height=H)

# ---------------- panel 2: Vsw / Pdyn ----------------
p2 = alt.layer(
    line(to_df(VSW, "v"), "#000000", alt.Scale(domain=[300, 600], nice=False, zero=False),
         y_left("Vsw (Km/s)", list(range(300, 601, 25)), "datum.value % 50 == 0"), x_bottom()),
    line(to_df(PDYN, "p"), RED, alt.Scale(domain=[0, 11], nice=False, zero=False),
         y_right("Pdyn (nPa)", [i * 0.5 for i in range(23)], "datum.value % 1 == 0", 32), X_TOP),
).resolve_scale(y="independent").resolve_axis(x="independent", y="independent").properties(width=W, height=H)

# ---------------- panel 3: SYM-H / AL ----------------
p3 = alt.layer(
    line(to_df(SYMH, "s"), "#000000", alt.Scale(domain=[-20, 30], nice=False, zero=False),
         y_left("SYM-H Index (nT)", [-20 + 2.5 * i for i in range(21)], "datum.value % 5 == 0"),
         x_bottom(), interp="step-after"),
    line(to_df(AL, "a"), RED, alt.Scale(domain=[-400, 0], nice=False, zero=False),
         y_right("AL Index (nT)", list(range(-400, 1, 50)), "datum.value % 100 == 0", 32), X_TOP),
).resolve_scale(y="independent").resolve_axis(x="independent", y="independent").properties(width=W, height=H)

# ---------------- panel 4: Lpp / Lmp ----------------
annot_df = pd.DataFrame({"t": ANNOT})
txt1 = alt.Chart(annot_df.iloc[[0]]).mark_text(
    align="left", baseline="middle", font="Liberation Sans", fontStyle="italic", fontSize=18, color=RED
).encode(text="t:N", x=alt.value(35), y=alt.value(23))
txt2 = alt.Chart(annot_df.iloc[[1]]).mark_text(
    align="left", baseline="middle", font="Liberation Sans", fontStyle="italic", fontSize=18, color="#222"
).encode(text="t:N", x=alt.value(35), y=alt.value(45))

p4 = alt.layer(
    line(to_df(LPP, "l"), "#000000", alt.Scale(domain=[4, 6], nice=False, zero=False),
         y_left("L\u209a\u209a", [4 + 0.25 * i for i in range(9)], "datum.value % 0.5 == 0",
                label_expr="datum.value % 0.5 == 0 ? replace(format(datum.value, '.1f'), '.', ',') : ''"),
         x_bottom("Days of 2013"), interp="step-after"),
    line(to_df(LMP, "m"), RED, alt.Scale(domain=[7, 19], nice=False, zero=False),
         y_right("L\u2098\u209a", [7 + 0.5 * i for i in range(25)], "datum.value % 1 == 0", 30), X_TOP),
    txt1, txt2,
).resolve_scale(y="independent").resolve_axis(x="independent", y="independent").properties(width=W, height=H)

chart = alt.vconcat(p1, p2, p3, p4, spacing=39, bounds="flush").resolve_scale(
    color="independent").resolve_legend(color="independent").properties(
    padding={"left": 12, "top": 1, "right": 0, "bottom": 0}, background="white"
).configure_view(stroke="#333", strokeWidth=1.5).configure_axis(
    labelFont=LABEL_FONT, labelFontWeight="bold", labelFontSize=17, labelColor="#111",
    titleFont=TITLE_FONT, titleFontWeight="normal", titleFontSize=17, titleColor="#111",
)

chart.save("out.html", embed_options={"renderer": "svg", "actions": False})
